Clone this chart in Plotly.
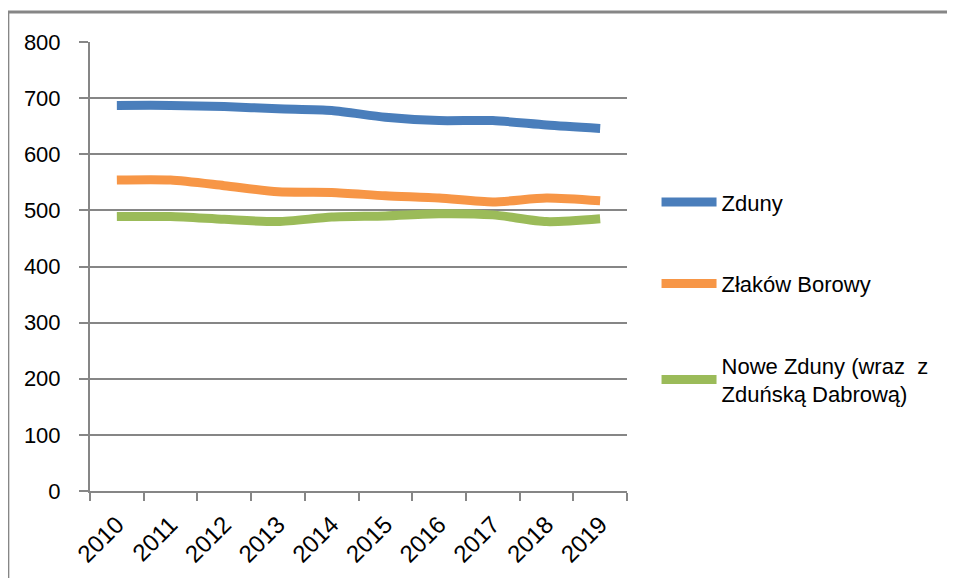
import plotly.graph_objects as go

years = ["2010", "2011", "2012", "2013", "2014", "2015", "2016", "2017", "2018", "2019"]
zduny = [687, 687, 685, 681, 678, 666, 660, 660, 652, 646]
zlakow = [554, 554, 544, 533, 532, 526, 522, 515, 522, 517]
nowe_zduny = [489, 489, 484, 480, 488, 490, 494, 492, 480, 485]

names = ["Zduny", "Złaków Borowy", "Nowe Zduny (wraz  z<br>Zduńską Dabrową)"]
colors = ["#4a7ebb", "#f79646", "#9bbb59"]

grid = "#868686"

fig = go.Figure()
for i, (name, vals, col) in enumerate(zip(names, [zduny, zlakow, nowe_zduny], colors)):
    fig.add_trace(go.Scatter(
        x=years, y=vals, name=name, mode="lines",
        line=dict(color=col, width=9, shape="spline", smoothing=0.7),
        legendgroup=f"g{i}",
    ))

# page body adds ~8px offset, margins compensate for it
fig.update_layout(
    width=955, height=578,
    margin=dict(l=82, r=336, t=34, b=95),
    plot_bgcolor="white", paper_bgcolor="white",
    font=dict(family="Liberation Sans, Arial, sans-serif", size=22, color="black"),
    showlegend=True,
    legend=dict(
        x=1.055, y=0.69, xanchor="left", yanchor="top",
        tracegroupgap=50, font=dict(size=22),
        itemwidth=55,
    ),
    xaxis=dict(
        type="category", range=[-0.5, len(years) - 0.5],
        tickson="boundaries", ticks="outside", ticklen=8,
        tickcolor=grid, tickwidth=2, showline=True, linecolor=grid, linewidth=2,
        showgrid=False, tickangle=-45, tickfont=dict(size=24),
        ticklabelstandoff=8,
    ),
    yaxis=dict(
        range=[0, 800], dtick=100, ticks="outside", ticklen=9,
        tickcolor=grid, tickwidth=2, showline=True, linecolor=grid, linewidth=2,
        showgrid=True, gridcolor=grid, gridwidth=1.5, zeroline=False,
        tickfont=dict(size=22), ticklabelstandoff=14,
    ),
)

# outer chart frame (top and left edges visible)
fig.add_shape(type="rect", xref="paper", yref="paper",
              x0=-0.153, x1=1.7, y0=-0.3, y1=1.067,
              line=dict(color=grid, width=3))

fig.write_html("out.html")
